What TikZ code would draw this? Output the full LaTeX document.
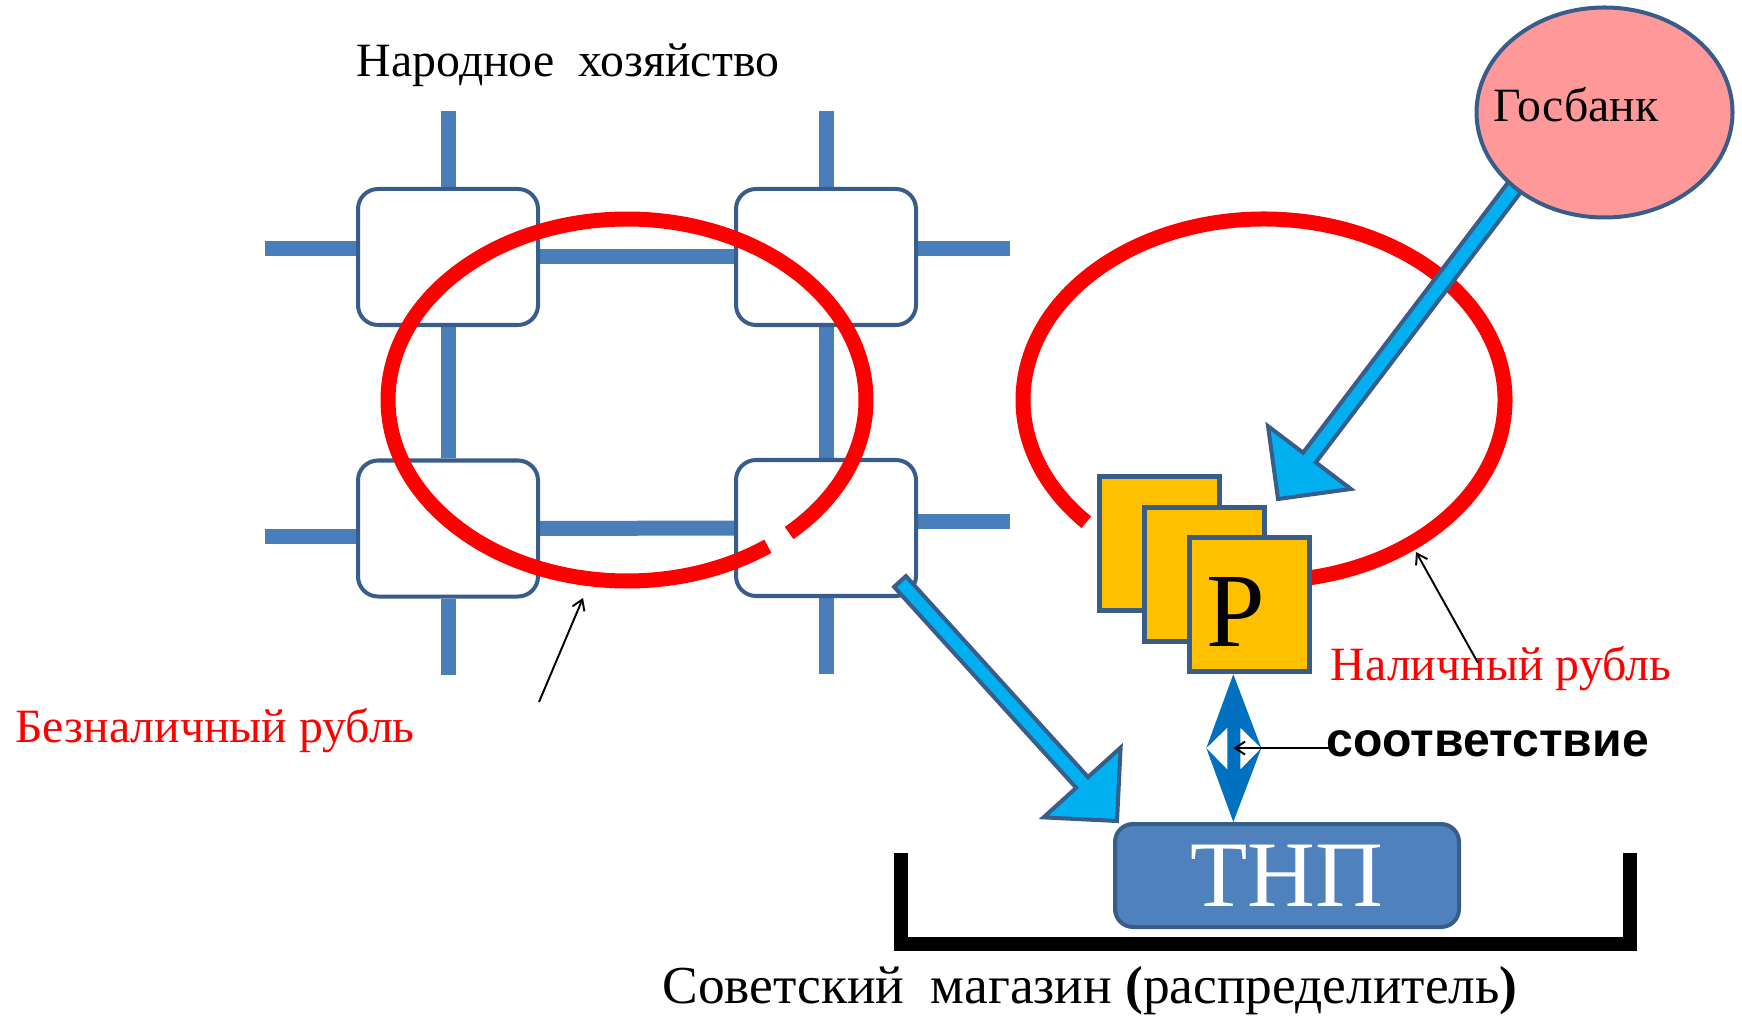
\documentclass[tikz,border=0pt]{standalone}
\usepackage{fontspec}
\setmainfont{Liberation Serif}
\setsansfont{Liberation Sans}
\usepackage{tikz}
\usetikzlibrary{arrows.meta, calc, backgrounds, shapes.geometric}
\definecolor{stubblue}{RGB}{74,126,187}
\definecolor{boxedge}{RGB}{56,93,138}
\definecolor{ringred}{RGB}{255,0,0}
\definecolor{arrowcyan}{RGB}{0,176,240}
\definecolor{coinyellow}{RGB}{255,192,0}
\definecolor{bankpink}{RGB}{255,153,153}
\definecolor{goodsblue}{RGB}{79,129,189}
\definecolor{matchblue}{RGB}{0,112,192}

% block arrow: #1 = tail coordinate, #2 = tip coordinate
\newcommand{\blockarrow}[2]{%
  \path ($(#2)!0.52cm!(#1)$) coordinate (ba-base);
  \draw[bigarrow] ($(#1)!0.08cm!90:(#2)$) -- ($(ba-base)!0.08cm!90:(#2)$)
    -- ($(ba-base)!0.52cm!90:(#2)$) -- (#2) -- ($(ba-base)!0.52cm!-90:(#2)$)
    -- ($(ba-base)!0.08cm!-90:(#2)$) -- ($(#1)!0.08cm!-90:(#2)$) -- cycle;
}

\begin{document}
\begin{tikzpicture}[
    %% Styles
    netbox/.style={
      rectangle, rounded corners=0.2cm,
      minimum width=1.80cm, minimum height=1.36cm, inner sep=0pt,
      draw=boxedge, line width=1.14pt, fill=white
    },
    stub/.style={draw=stubblue, line width=0.15cm},
    ring/.style={draw=ringred, line width=0.15cm},
    coin/.style={
      rectangle, minimum width=1.20cm, minimum height=1.34cm, inner sep=0pt,
      draw=boxedge, line width=1.42pt, fill=coinyellow
    },
    bank/.style={
      ellipse, minimum width=2.56cm, minimum height=2.10cm, inner sep=0pt,
      draw=boxedge, line width=1.14pt, fill=bankpink
    },
    goods/.style={
      rectangle, rounded corners=0.18cm,
      minimum width=3.44cm, minimum height=1.03cm, inner sep=0pt,
      draw=boxedge, line width=1.14pt, fill=goodsblue,
      text=white, font=\fontsize{26.7}{30}\selectfont
    },
    bigarrow/.style={draw=boxedge, line width=1.14pt, fill=arrowcyan},
    pointer/.style={-{Straight Barb[length=1mm,width=1.3mm]}, line width=0.55pt},
    shopline/.style={draw=black, line width=0.14cm},
    lbl/.style={font=\fontsize{13.6}{16}\selectfont, inner sep=0pt, anchor=base},
    redlbl/.style={lbl, text=ringred}
  ]

  \useasboundingbox (0,0) rectangle (17.42,-10.17);

  %% ── Народное хозяйство (grid of enterprises) ─────────────
  \node[lbl] (economy) at (5.68,-0.767) {Народное\ \ хозяйство};

  \node[netbox] (b11) at (4.48,-2.57)  {};
  \node[netbox] (b12) at (8.26,-2.57)  {};
  \node[netbox] (b21) at (4.48,-5.285) {};
  \node[netbox] (b22) at (8.26,-5.28)  {};

  \begin{scope}[on background layer]
    \draw[stub] ([yshift=0.08cm]b11.west) -- ++(-0.91,0);
    \draw[stub] (b11.north) -- ++(0,0.76);
    \draw[stub] (b11.south) -- (b21.north);
    \draw[stub] (b11.east) -- (b12.west);
    \draw[stub] (b12.north) -- ++(0,0.76);
    \draw[stub] ([yshift=0.08cm]b12.east) -- ++(0.92,0);
    \draw[stub] (b12.south) -- (b22.north);
    \draw[stub] ([yshift=-0.075cm]b21.west) -- ++(-0.91,0);
    \draw[stub] (b21.south) -- ++(0,-0.76);
    \draw[stub] (b21.east) -- (b22.west);
    \draw[stub] ([yshift=0.07cm]b22.east) -- ++(0.92,0);
    \draw[stub] (b22.south) -- ++(0,-0.76);
  \end{scope}

  %% ── Red rings ────────────────────────────────────────────
  \coordinate (lring) at (6.27,-4.00);
  \draw[ring] ([shift={(-47.3:2.39 and 1.81)}]lring)
    arc[start angle=-47.3, end angle=306.1, x radius=2.39, y radius=1.81];

  \coordinate (rring) at (12.64,-4.00);
  \draw[ring] ([shift={(-95:2.41 and 1.81)}]rring)
    arc[start angle=-95, end angle=222.5, x radius=2.41, y radius=1.81];

  %% ── Госбанк ──────────────────────────────────────────────
  \coordinate (bankout) at (15.20,-1.80);
  \coordinate (cashin)  at (12.78,-4.99);
  \blockarrow{bankout}{cashin}

  \node[bank] (bank) at (16.045,-1.125) {};
  \node[lbl] (banktxt) at (15.76,-1.217) {Госбанк};

  %% ── Cash roubles ─────────────────────────────────────────
  \node[coin] (p1) at (11.59,-5.437) {};
  \node[coin] (p2) at (12.04,-5.745) {};
  \node[coin, font=\fontsize{30}{34}\selectfont, text height=0.84cm]
    (p3) at (12.495,-6.047) {\hspace*{-0.28cm}Р};

  %% ── Shop ─────────────────────────────────────────────────
  \node[goods] (tnp) at (12.87,-8.755) {ТНП};

  \coordinate (netout) at (9.00,-5.815);
  \coordinate (shopin) at (11.17,-8.21);
  \blockarrow{netout}{shopin}

  % double arrow between cash and goods
  \coordinate (mtop) at ([xshift=-0.162cm]p3.south);
  \coordinate (mbot) at (mtop |- tnp.north);
  \coordinate (mmid) at ($(mtop)!0.5!(mbot)$);
  \fill[matchblue, even odd rule] (mtop) -- ([xshift=0.28cm]mmid)
    -- ([shift={(0.07,0.205)}]mmid) -- ([shift={(0.07,-0.215)}]mmid)
    -- ([xshift=0.28cm]mmid) -- (mbot) -- ([xshift=-0.27cm]mmid)
    -- ([shift={(-0.06,-0.215)}]mmid) -- ([shift={(-0.06,0.205)}]mmid)
    -- ([xshift=-0.27cm]mmid) -- cycle;

  \draw[shopline] (9.01,-8.53) -- (9.01,-9.435) -- (16.30,-9.435) -- (16.30,-8.53);

  %% ── Labels ───────────────────────────────────────────────
  \node[redlbl] (besn) at (2.15,-7.42) {Безналичный\ рубль};
  \node[redlbl] (nal)  at (15.01,-6.80) {Наличный\ рубль};
  \node[lbl, font=\sffamily\bfseries\fontsize{13.7}{16}\selectfont]
    (match) at (14.875,-7.567) {соответствие};
  \node[lbl, font=\fontsize{15.2}{18}\selectfont] (shop) at (10.90,-10.03)
    {Советский\ \ магазин \textbf{(}распределитель\textbf{)}};

  % pointers
  \coordinate (besntail) at (5.39,-7.02);
  \coordinate (besntip)  at (5.83,-5.98);
  \draw[pointer] (besntail) -- (besntip);

  \coordinate (naltail) at (14.78,-6.63);
  \coordinate (naltip)  at (14.16,-5.52);
  \draw[pointer] (naltail) -- (naltip);

  \draw[pointer] (match.west |- mmid) ++(0.08,0) -- (mmid);

\end{tikzpicture}
\end{document}
